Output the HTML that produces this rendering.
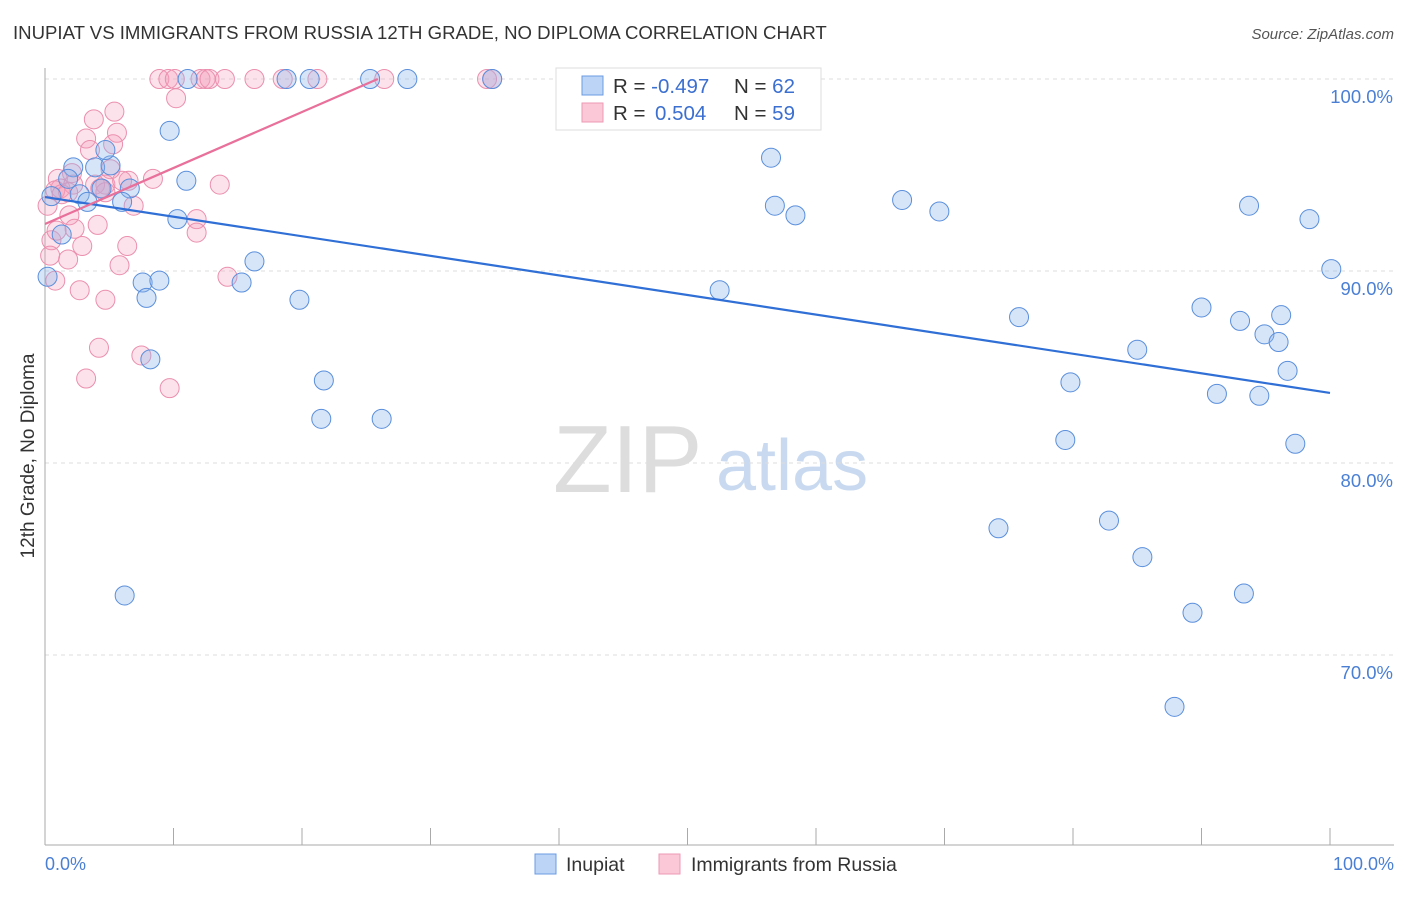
<!DOCTYPE html>
<html><head><meta charset="utf-8"><style>
body{margin:0;background:#fff;font-family:"Liberation Sans",sans-serif;}
svg text{font-family:"Liberation Sans",sans-serif;}
</style></head><body>
<svg id="chart" width="1406" height="892" xmlns="http://www.w3.org/2000/svg">
<text x="13" y="39" font-size="18.6" fill="#333">INUPIAT VS IMMIGRANTS FROM RUSSIA 12TH GRADE, NO DIPLOMA CORRELATION CHART</text>
<text x="1394" y="39" font-size="15" fill="#555" font-style="italic" text-anchor="end">Source: ZipAtlas.com</text>
<g>
<text x="553" y="492" font-size="96" fill="#ddd" font-family="Liberation Serif, serif">ZIP</text>
<text x="716" y="490" font-size="72" fill="#c9daf0">atlas</text>
</g>
<g id="grid"></g>
<line x1="45" y1="68" x2="45" y2="845" stroke="#aaa" stroke-width="1"/>
<line x1="45" y1="845" x2="1394" y2="845" stroke="#aaa" stroke-width="1"/>
<g id="xticks"></g>
<text transform="translate(34,456) rotate(-90)" font-size="19" fill="#333" text-anchor="middle">12th Grade, No Diploma</text>
<text x="45" y="870" font-size="18" fill="#4a7fd4">0.0%</text>
<text x="1394" y="870" font-size="18" fill="#4a7fd4" text-anchor="end">100.0%</text>
<g id="pts"></g>
<g id="lines"></g>
<g>
<rect x="556" y="68" width="265" height="62" fill="#fff" stroke="#ddd"/>
<rect x="582" y="76" width="21" height="19" fill="#bcd4f6" stroke="#6a9be0"/>
<rect x="582" y="103" width="21" height="19" fill="#fbc8d8" stroke="#ee9ab4"/>
<text x="613" y="93" font-size="20.5" fill="#333">R = <tspan fill="#3b6fd0">-0.497</tspan><tspan x="734">N = </tspan><tspan fill="#3b6fd0">62</tspan></text>
<text x="613" y="120" font-size="20.5" fill="#333">R = <tspan fill="#3b6fd0" x="655">0.504</tspan><tspan x="734">N = </tspan><tspan fill="#3b6fd0">59</tspan></text>
</g>
<g>
<rect x="535" y="854" width="21" height="20" fill="#bcd4f6" stroke="#6a9be0"/>
<text x="566" y="871" font-size="19.5" fill="#333">Inupiat</text>
<rect x="659" y="854" width="21" height="20" fill="#fbc8d8" stroke="#ee9ab4"/>
<text x="691" y="871" font-size="19.5" fill="#333">Immigrants from Russia</text>
</g>
</svg>
<script>
const yTicks=[100,90,80,70];
const yTickLabels=["100.0%","90.0%","80.0%","70.0%"];
const xTickVals=[0,10,20,30,40,50,60,70,80,90,100];
const bluePx=[[187,79],[287,79],[310,79],[370,79],[407,79],[492,79],[651,79],[170,131],[73,168],[95,167],[110,166],[106,150],[68,178],[80,194],[52,196],[87,202],[102,189],[130,189],[122,201],[186,181],[177,219],[62,235],[48,276],[143,283],[146,297],[159,281],[241,282],[255,261],[299,299],[150,360],[324,381],[321,418],[382,418],[125,596],[771,158],[775,206],[796,216],[902,200],[940,211],[720,291],[1019,318],[1070,382],[1065,440],[1137,349],[1202,308],[1217,394],[1240,321],[1264,334],[1278,343],[1281,316],[1288,371],[1259,396],[1249,206],[1310,219],[1331,270],[1295,443],[998,529],[1109,521],[1142,557],[1193,612],[1244,593],[1174,706]];
const pinkPx=[[160,79],[168,79],[175,79],[200,79],[205,79],[210,79],[225,79],[254,79],[283,79],[318,79],[384,79],[487,79],[492,79],[176,99],[115,112],[94,119],[117,133],[86,139],[113,144],[90,151],[72,173],[58,178],[61,188],[73,185],[95,185],[105,185],[128,181],[153,179],[220,184],[106,192],[134,206],[48,205],[70,215],[74,229],[98,225],[197,220],[197,233],[52,240],[82,247],[127,246],[68,260],[120,266],[228,276],[55,280],[80,291],[105,299],[99,348],[141,355],[86,379],[170,388],[50,255],[57,230],[122,180],[110,170],[100,189],[55,190],[62,195],[68,192]];
const inupiatX=bluePx.map(p=>+((p[0]-45)/12.85).toFixed(1));
const inupiatY=bluePx.map(p=>+(100-(p[1]-79)/19.2).toFixed(1));
const russiaX=pinkPx.map(p=>+((p[0]-45)/12.85).toFixed(1));
const russiaY=pinkPx.map(p=>+(100-(p[1]-79)/19.2).toFixed(1));
const blueTrend=[[0,93.85],[100,83.65]];
const pinkTrend=[[0,92.45],[25.9,100]];
const sx=v=>45+v*12.85, sy=v=>79+(100-v)*19.2;
const NS="http://www.w3.org/2000/svg";
function mk(tag,attrs,parent){const e=document.createElementNS(NS,tag);for(const k in attrs)e.setAttribute(k,attrs[k]);document.getElementById(parent).appendChild(e);return e;}
yTicks.forEach((v,i)=>{
 const l=mk('line',{x1:45,x2:1394,y1:sy(v),y2:sy(v),stroke:'#ddd','stroke-dasharray':'4,4'},'grid');
 
 
 const t=mk('text',{x:1393,y:sy(v)+24,'font-size':18.5,fill:'#4a7fd4','text-anchor':'end'},'grid');
 t.textContent=yTickLabels[i];
 
 
});
xTickVals.forEach(v=>{
 const l=mk('line',{x1:sx(v),x2:sx(v),y1:828,y2:845,stroke:'#aaa'},'xticks');
 
 
});
russiaX.forEach((x,i)=>{
 const c=mk('circle',{cx:sx(x),cy:sy(russiaY[i]),r:9.5,fill:'rgba(245,160,190,0.3)',stroke:'#eb8fae','stroke-width':1},'pts');
 
 
});
inupiatX.forEach((x,i)=>{
 const c=mk('circle',{cx:sx(x),cy:sy(inupiatY[i]),r:9.5,fill:'rgba(140,180,235,0.35)',stroke:'#5a8fdc','stroke-width':1},'pts');
 
 
});
const bl=mk('line',{x1:sx(blueTrend[0][0]),y1:sy(blueTrend[0][1]),x2:sx(blueTrend[1][0]),y2:sy(blueTrend[1][1]),stroke:'#2f6fd6','stroke-width':2.2},'lines');


const pl=mk('line',{x1:sx(pinkTrend[0][0]),y1:sy(pinkTrend[0][1]),x2:sx(pinkTrend[1][0]),y2:sy(pinkTrend[1][1]),stroke:'#e8709a','stroke-width':2.2},'lines');


</script>
</body></html>
